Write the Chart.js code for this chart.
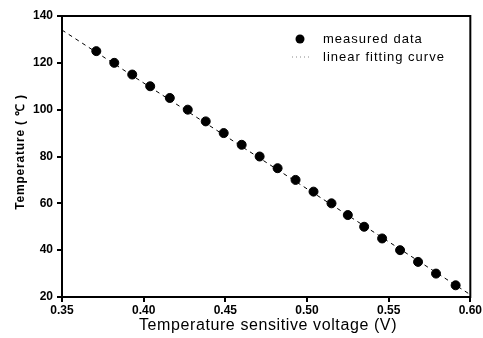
<!DOCTYPE html>
<html>
<head>
<meta charset="utf-8">
<script src="https://cdn.jsdelivr.net/npm/chart.js@4.4.1/dist/chart.umd.min.js"></script>
<style>
  html, body { margin: 0; padding: 0; background: #fff; }
  #wrap { width: 483px; height: 338px; }
</style>
</head>
<body>
<div id="wrap"><canvas id="myChart" width="483" height="338"></canvas></div>
<script>
// measured points
var voltage = [0.371, 0.382, 0.393, 0.404, 0.416, 0.427, 0.438, 0.449, 0.460, 0.471, 0.482,
               0.493, 0.504, 0.515, 0.525, 0.535, 0.546, 0.557, 0.568, 0.579, 0.591];
var temperature = [125, 120, 115, 110, 105, 100, 95, 90, 85, 80, 75,
                   70, 65, 60, 55, 50, 45, 40, 35, 30, 25];
// linear fit end points
var fitVoltage = [0.35, 0.60];
var fitTemperature = [134, 21];
var xTicks = [0.35, 0.40, 0.45, 0.50, 0.55, 0.60];
var yTicks = [20, 40, 60, 80, 100, 120, 140];
var legendLabels = ['measured data', 'linear fitting curve'];
var xTitle = 'Temperature sensitive voltage (V)';
var yTitle = 'Temperature ( \u2103 )';

var fam = 'Liberation Sans, Arial, sans-serif';
var tickFont = { family: fam, size: 12, weight: 'bold' };

// frame, legend and axis titles drawn on top
var framePlugin = {
    id: 'frame',
    afterDraw: function (chart) {
        var c = chart.ctx, a = chart.chartArea;
        c.save();
        c.strokeStyle = '#000';
        c.lineWidth = 2;
        c.strokeRect(a.left, a.top, a.right - a.left, a.bottom - a.top);

        // legend
        c.fillStyle = '#000';
        c.beginPath();
        c.arc(300, 39, 4.5, 0, Math.PI * 2);
        c.fill();
        c.lineWidth = 1;
        c.strokeStyle = '#888';
        c.setLineDash([1, 3]);
        c.beginPath();
        c.moveTo(292, 57);
        c.lineTo(312, 57);
        c.stroke();
        c.setLineDash([]);
        c.textBaseline = 'middle';
        if ('letterSpacing' in c) c.letterSpacing = '1px';
        c.font = '13px ' + fam;
        c.fillText(legendLabels[0], 323, 39);
        c.fillText(legendLabels[1], 323, 57);

        // axis titles
        c.textAlign = 'center';
        c.font = '16px ' + fam;
        if ('letterSpacing' in c) c.letterSpacing = '0.6px';
        c.fillText(xTitle, 268, 326);
        c.translate(21, 152);
        c.rotate(-Math.PI / 2);
        c.font = 'bold 12px ' + fam;
        if ('letterSpacing' in c) c.letterSpacing = '0.8px';
        c.fillText(yTitle, 0, 0);
        c.restore();
    }
};

var ctx = document.getElementById('myChart').getContext('2d');
var myChart = new Chart(ctx, {
    type: 'scatter',
    data: {
        datasets: [{
            label: legendLabels[1],
            type: 'line',
            data: fitVoltage.map(function (v, i) { return { x: v, y: fitTemperature[i] }; }),
            borderColor: '#000',
            borderWidth: 1,
            borderDash: [4, 4],
            pointRadius: 0,
            fill: false
        }, {
            label: legendLabels[0],
            data: voltage.map(function (v, i) { return { x: v, y: temperature[i] }; }),
            backgroundColor: '#000',
            borderColor: '#000',
            pointRadius: 4.5,
            pointHoverRadius: 4.5
        }]
    },
    options: {
        responsive: false,
        animation: false,
        layout: { padding: { top: 16, right: 12, left: 0, bottom: 0 } },
        plugins: {
            legend: { display: false },
            tooltip: { enabled: false }
        },
        scales: {
            x: {
                type: 'linear',
                min: 0.35,
                max: 0.60,
                afterBuildTicks: function (axis) { axis.ticks = xTicks.map(function (v) { return { value: v }; }); },
                afterFit: function (axis) { axis.height = 41; },
                ticks: {
                    color: '#000',
                    font: tickFont,
                    padding: 1,
                    maxRotation: 0,
                    callback: function (v) { return v.toFixed(2); }
                },
                grid: { drawOnChartArea: false, drawTicks: true, tickLength: 5, color: '#000', lineWidth: 2 },
                border: { color: '#000', width: 2 }
            },
            y: {
                min: 20,
                max: 140,
                afterBuildTicks: function (axis) { axis.ticks = yTicks.map(function (v) { return { value: v }; }); },
                afterFit: function (axis) { axis.width = 62; },
                ticks: { color: '#000', font: tickFont, padding: 4 },
                grid: { drawOnChartArea: false, drawTicks: true, tickLength: 5, color: '#000', lineWidth: 2 },
                border: { color: '#000', width: 2 }
            }
        }
    },
    plugins: [framePlugin]
});
</script>
</body>
</html>
